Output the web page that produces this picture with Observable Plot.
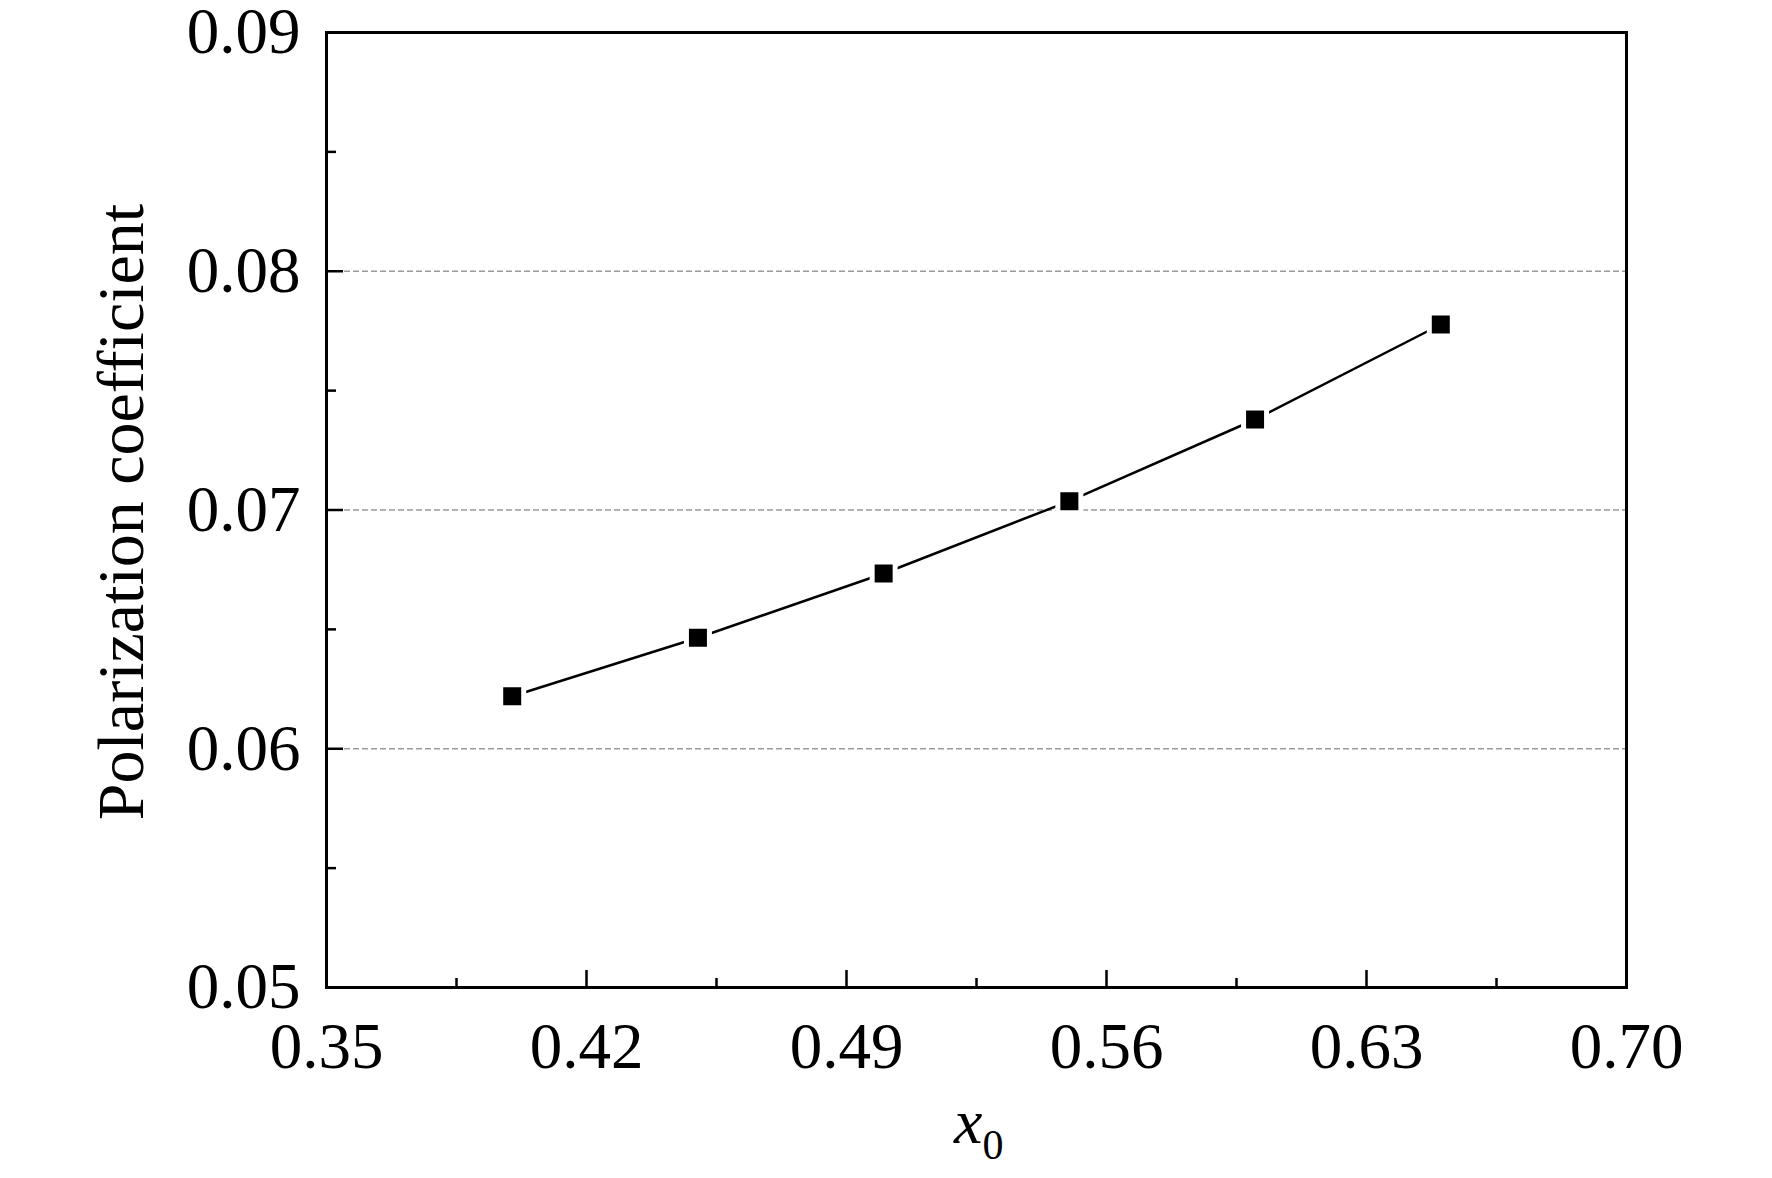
<!DOCTYPE html>
<html>
<head>
<meta charset="utf-8">
<script src="https://cdn.jsdelivr.net/npm/d3@7"></script>
<script src="https://cdn.jsdelivr.net/npm/@observablehq/plot@0.6"></script>
<style>
  html, body { margin: 0; padding: 0; background: #fff; overflow: hidden; }
</style>
</head>
<body>
<div id="chart"></div>
<script>
// Data
const xValues = [0.40, 0.45, 0.50, 0.55, 0.60, 0.65];
const yValues = [0.0622, 0.06465, 0.06734, 0.07037, 0.07379, 0.07777];

// Axis ticks
const xTicks = [0.35, 0.42, 0.49, 0.56, 0.63, 0.70];
const xMajorInner = [0.42, 0.49, 0.56, 0.63];
const xMinorTicks = [0.385, 0.455, 0.525, 0.595, 0.665];
const yTicks = [0.05, 0.06, 0.07, 0.08, 0.09];
const yMajorInner = [0.06, 0.07, 0.08];
const yMinorTicks = [0.055, 0.065, 0.075, 0.085];
const yGrid = [0.06, 0.07, 0.08];

const yLabel = "Polarization coefficient";
const xLabelMain = "x";
const xLabelSub = "0";

const data = xValues.map((x, i) => ({ x, y: yValues[i] }));

const W = 1772, H = 1178;
const mL = 326, mR = 146, mT = 32, mB = 191;
const plotW = W - mL - mR, plotH = H - mT - mB;
const fontSize = 65;

const chart = Plot.plot({
  width: W,
  height: H,
  marginLeft: mL,
  marginRight: mR,
  marginTop: mT,
  marginBottom: mB,
  style: { fontFamily: "'Liberation Serif', 'Times New Roman', serif", background: "#fff", color: "#000" },
  x: { domain: [0.35, 0.70] },
  y: { domain: [0.05, 0.09] },
  marks: [
    Plot.ruleY(yGrid, { y: d => d, stroke: "#9a9a9a", strokeWidth: 1.3, strokeDasharray: "6,3" }),
    // inward ticks
    Plot.ruleX(xMajorInner, { x: d => d, stroke: "#000", strokeWidth: 2.5, insetTop: plotH - 17 }),
    Plot.ruleX(xMinorTicks, { x: d => d, stroke: "#000", strokeWidth: 2.5, insetTop: plotH - 9 }),
    Plot.ruleY(yMajorInner, { y: d => d, stroke: "#000", strokeWidth: 2.5, insetRight: plotW - 17 }),
    Plot.ruleY(yMinorTicks, { y: d => d, stroke: "#000", strokeWidth: 2.5, insetRight: plotW - 10 }),
    Plot.line(data, { x: "x", y: "y", stroke: "#000", strokeWidth: 2.5 }),
    Plot.dot(data, { x: "x", y: "y", symbol: "square", r: 23 / Math.sqrt(Math.PI), fill: "#000", stroke: "#fff", strokeWidth: 5 }),
    Plot.frame({ stroke: "#000", strokeWidth: 3 }),
    Plot.axisY({ ticks: yTicks, tickSize: 0, tickPadding: 26, tickFormat: d3.format(".2f"), fontSize, label: null }),
    Plot.axisX({ ticks: xTicks, tickSize: 0, tickPadding: 34, tickFormat: d3.format(".2f"), fontSize, label: null }),
    Plot.text([yLabel], { text: d => d, frameAnchor: "left", rotate: -90, dx: 142 - mL, dy: 2, lineAnchor: "bottom", textAnchor: "middle", fontSize: 66, fill: "#000" }),
    Plot.text([xLabelMain], { text: d => d, frameAnchor: "bottom", dx: 6, dy: 155, lineAnchor: "bottom", textAnchor: "end", fontSize: 64, fontStyle: "italic", fill: "#000" }),
    Plot.text([xLabelSub], { text: d => d, frameAnchor: "bottom", dx: 6, dy: 171, lineAnchor: "bottom", textAnchor: "start", fontSize: 42, fill: "#000" })
  ]
});

document.getElementById("chart").appendChild(chart);
</script>
</body>
</html>
